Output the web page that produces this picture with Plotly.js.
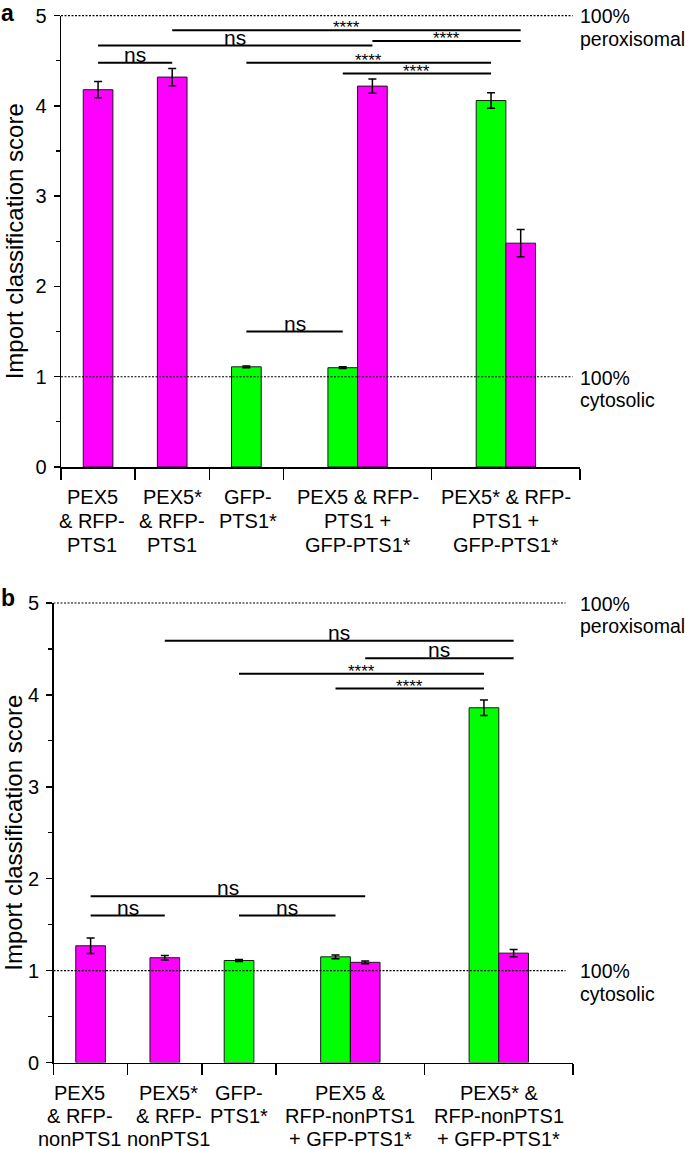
<!DOCTYPE html>
<html>
<head>
<meta charset="utf-8">
<script src="https://cdn.plot.ly/plotly-3.0.1.min.js"></script>
<style>
  html, body { margin: 0; padding: 0; background: #fff; }
  #chart { width: 685px; height: 1149px; }
</style>
</head>
<body>
<div id="chart"></div>
<script>
// ---------------- DATA ----------------
// group widths in category units (single-bar groups = 1, paired groups = 2)
const groupSpan = [1, 1, 1, 2, 2];

// Panel a
const categoriesA = [
  "PEX5\n& RFP-\nPTS1",
  "PEX5*\n& RFP-\nPTS1",
  "GFP-\nPTS1*",
  "PEX5 & RFP-\nPTS1 +\nGFP-PTS1*",
  "PEX5* & RFP-\nPTS1 +\nGFP-PTS1*"
];
const greenA      = [null, null, 1.11, 1.10, 4.06];
const greenErrA   = [null, null, 0.01, 0.01, 0.085];
const magentaA    = [4.18, 4.32, null, 4.22, 2.48];
const magentaErrA = [0.09, 0.095, null, 0.08, 0.15];
// comparisons: [fromCategory, fromSeries, toCategory, toSeries, level, label]
const sigA = [
  [1, "m", 4, "m", 4.84, "****"],
  [0, "m", 3, "m", 4.67, "ns"],
  [3, "m", 4, "m", 4.72, "****"],
  [0, "m", 1, "m", 4.48, "ns"],
  [2, "g", 4, "g", 4.48, "****"],
  [3, "g", 4, "g", 4.36, "****"],
  [2, "g", 3, "g", 1.50, "ns"]
];

// Panel b
const categoriesB = [
  "PEX5\n& RFP-\nnonPTS1",
  "PEX5*\n& RFP-\nnonPTS1",
  "GFP-\nPTS1*",
  "PEX5 &\nRFP-nonPTS1\n+ GFP-PTS1*",
  "PEX5* &\nRFP-nonPTS1\n+ GFP-PTS1*"
];
const greenB      = [null, null, 1.11, 1.15, 3.86];
const greenErrB   = [null, null, 0.01, 0.02, 0.085];
const magentaB    = [1.27, 1.14, null, 1.09, 1.19];
const magentaErrB = [0.085, 0.025, null, 0.015, 0.04];
const sigB = [
  [1, "m", 4, "m", 4.59, "ns"],
  [3, "m", 4, "m", 4.40, "ns"],
  [2, "g", 4, "g", 4.23, "****"],
  [3, "g", 4, "g", 4.07, "****"],
  [0, "m", 3, "m", 1.81, "ns"],
  [0, "m", 1, "m", 1.60, "ns"],
  [2, "g", 3, "g", 1.60, "ns"]
];

const yTicks = [0, 1, 2, 3, 4, 5];
const refLevels = [1, 5];
const refLabels = {1: ["100%", "cytosolic"], 5: ["100%", "peroxisomal"]};
const yTitle = "Import classification score";
const panelLetters = ["a", "b"];

// ---------------- STYLE / LAYOUT ----------------
const W = 685, H = 1149;
const FONT = "Liberation Sans, Arial, Helvetica, sans-serif";
const MAGENTA = "#ff00ff", GREEN = "#00ff00";
const BAR_W = 0.4;
const py = v => 1 - v / H;   // pixel row -> paper y
const px = v => v / W;       // pixel col -> paper x

const bounds = [0];
groupSpan.forEach((s, i) => bounds.push(bounds[i] + s));
const centers = groupSpan.map((s, i) => bounds[i] + s / 2);

function barPos(green, magenta, i, series) {
  const both = green[i] != null && magenta[i] != null;
  if (!both) return centers[i];
  return series === "g" ? centers[i] - BAR_W / 2 : centers[i] + BAR_W / 2;
}

const panels = [
  { cats: categoriesA, g: greenA, ge: greenErrA, m: magentaA, me: magentaErrA, sig: sigA,
    xd: [61, 580], yd: [15.7, 467], labBase: 503.5, labPitch: 24, labShift: [-6, 0, 2, 0, 0],
    letterBase: 21, xa: "x", ya: "y" },
  { cats: categoriesB, g: greenB, ge: greenErrB, m: magentaB, me: magentaErrB, sig: sigB,
    xd: [53.5, 573], yd: [603, 1062.5], labBase: 1100, labPitch: 23, labShift: [-11, 4, 0, 0, 0],
    letterBase: 606, xa: "x2", ya: "y2" }
];

const traces = [];
const shapes = [];
const annotations = [];
const layout = {
  width: W, height: H,
  margin: { l: 0, r: 0, t: 0, b: 0 },
  paper_bgcolor: "#fff", plot_bgcolor: "rgba(0,0,0,0)",
  showlegend: false,
  barmode: "overlay",
  font: { family: FONT, color: "#000" }
};

function txt(text, x, xref, baselinePx, size, opts) {
  // place text so that its baseline sits at baselinePx
  const center = baselinePx - 0.35 * size;
  return Object.assign({
    text: text, x: x, xref: xref, y: py(center), yref: "paper",
    xanchor: "center", yanchor: "middle", showarrow: false,
    font: { family: FONT, size: size, color: "#000" }, borderpad: 0
  }, opts || {});
}

panels.forEach((P, k) => {
  const xKey = k === 0 ? "xaxis" : "xaxis2";
  const yKey = k === 0 ? "yaxis" : "yaxis2";
  const unitPx = (P.yd[1] - P.yd[0]) / 5;
  const yPx = v => P.yd[1] - v * unitPx;

  layout[xKey] = {
    domain: [px(P.xd[0]), px(P.xd[1])], anchor: P.ya, range: [0, 7],
    showline: true, linecolor: "#000", linewidth: 1.5,
    tickmode: "array", tickvals: bounds, ticks: "outside", ticklen: 11, tickwidth: 1.5, tickcolor: "#000",
    showticklabels: false, showgrid: false, zeroline: false, fixedrange: true
  };
  layout[yKey] = {
    domain: [py(P.yd[1]), py(P.yd[0])], anchor: P.xa, range: [0, 5],
    showline: true, linecolor: "#000", linewidth: 1.5,
    tickmode: "array", tickvals: yTicks, ticks: "outside", ticklen: 6, tickwidth: 1.5, tickcolor: "#000",
    minor: { tickmode: "linear", tick0: 0, dtick: 0.5, ticks: "outside", ticklen: 4, tickwidth: 1.2, tickcolor: "#000", showgrid: false },
    tickfont: { family: FONT, size: 20, color: "#000" }, ticklabelstandoff: 3,
    showgrid: false, zeroline: false, fixedrange: true
  };

  // bars
  [["g", P.g, P.ge, GREEN], ["m", P.m, P.me, MAGENTA]].forEach(([s, vals, errs, col]) => {
    const xs = [], ys = [], es = [];
    vals.forEach((v, i) => {
      if (v == null) return;
      xs.push(barPos(P.g, P.m, i, s)); ys.push(v); es.push(errs[i]);
    });
    traces.push({
      type: "bar", x: xs, y: ys, width: BAR_W, xaxis: P.xa, yaxis: P.ya,
      marker: { color: col, line: { color: "#1a1a1a", width: 1 } },
      error_y: { type: "data", array: es, visible: true, color: "#000", thickness: 1.5, width: 4 },
      hoverinfo: "skip"
    });
  });

  // dashed reference lines
  refLevels.forEach(lv => {
    shapes.push({
      type: "line", xref: P.xa, x0: 0, x1: 6.9, yref: "paper", y0: py(yPx(lv)), y1: py(yPx(lv)),
      line: { color: "#000", width: 1.2, dash: "2px,1.5px" }, layer: "above"
    });
    const lab = refLabels[lv];
    const b0 = yPx(lv) + 7.6;
    annotations.push(txt(lab[0], px(579), "paper", b0, 19.5, { xanchor: "left" }));
    annotations.push(txt(lab[1], px(579), "paper", b0 + 22.5, 19.5, { xanchor: "left" }));
  });

  // significance brackets
  P.sig.forEach(([c0, s0, c1, s1, lv, label]) => {
    const x0 = barPos(P.g, P.m, c0, s0), x1 = barPos(P.g, P.m, c1, s1);
    shapes.push({
      type: "line", xref: P.xa, yref: P.ya, x0: x0, x1: x1, y0: lv, y1: lv,
      line: { color: "#000", width: 2 }, layer: "above"
    });
    const lineY = yPx(lv);
    if (label === "ns") {
      annotations.push(txt(label, (x0 + x1) / 2, P.xa, lineY - 1, 21));
    } else {
      annotations.push(txt(label, (x0 + x1) / 2, P.xa, lineY + 3.7, 17));
    }
  });

  // category labels (one annotation per text line)
  P.cats.forEach((c, i) => {
    c.split("\n").forEach((line, j) => {
      annotations.push(txt(line, centers[i], P.xa, P.labBase + j * P.labPitch, 20, { xshift: P.labShift[i] }));
    });
  });

  // y title
  const mid = (P.yd[0] + P.yd[1]) / 2;
  annotations.push({
    text: yTitle, x: px(14), xref: "paper", y: py(mid), yref: "paper",
    xanchor: "center", yanchor: "middle", textangle: -90, showarrow: false,
    font: { family: FONT, size: 24, color: "#000" }, borderpad: 0
  });

  // panel letter
  annotations.push(txt("<b>" + panelLetters[k] + "</b>", px(0), "paper", P.letterBase, 23, { xanchor: "left" }));
});

layout.shapes = shapes;
layout.annotations = annotations;

Plotly.newPlot("chart", traces, layout, { displayModeBar: false, staticPlot: true });
</script>
</body>
</html>
